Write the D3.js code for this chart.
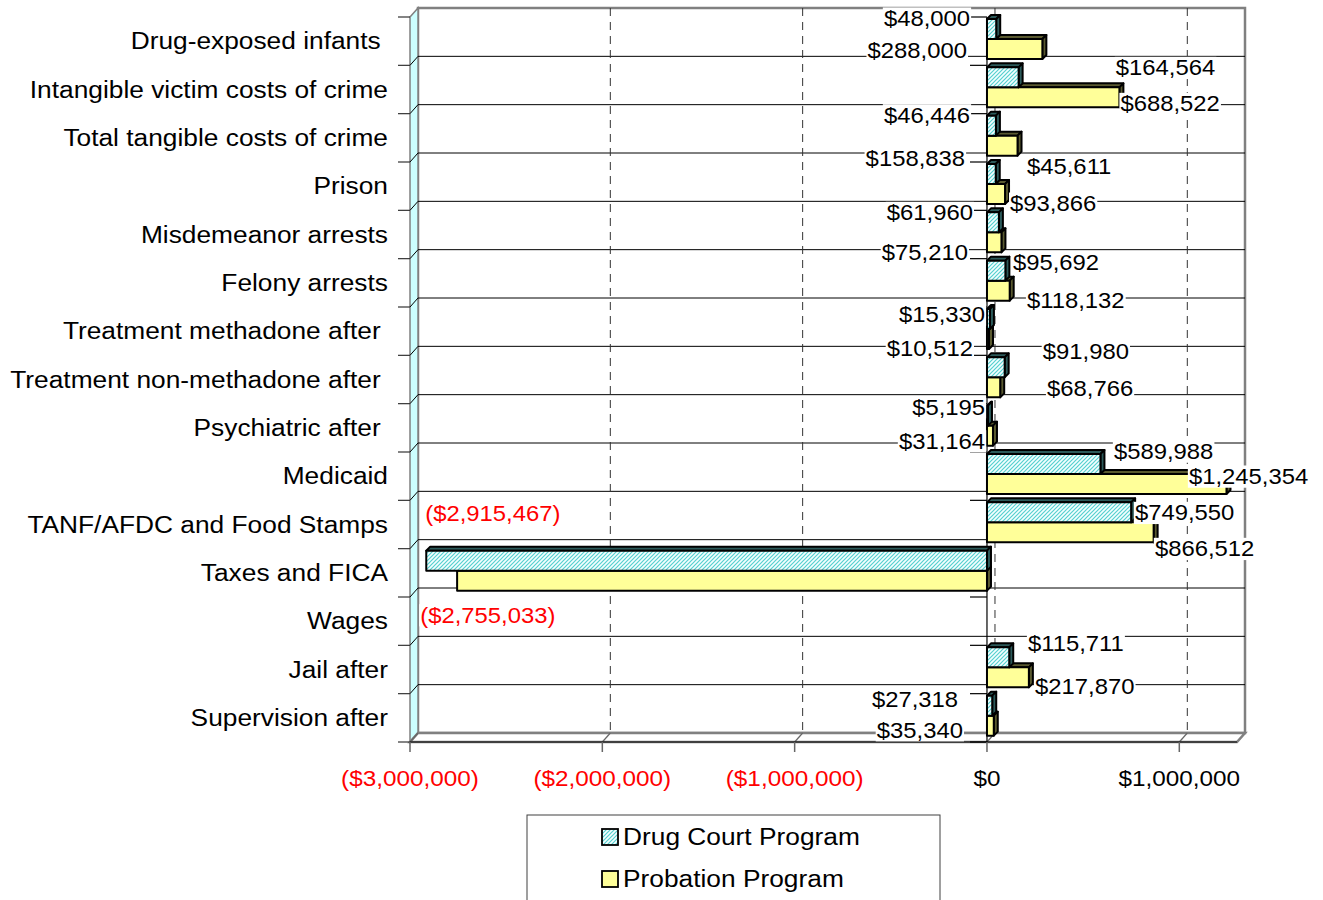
<!DOCTYPE html>
<html>
<head>
  <meta charset="utf-8">
  <title>Drug Court vs Probation costs</title>
  <script src="https://cdn.jsdelivr.net/npm/d3@7"></script>
  <style>
    body { margin: 0; background: #fff; }
    text { font-family: "Liberation Sans", Arial, sans-serif; }
  </style>
</head>
<body>
<script>
// categories, top to bottom
var categories = ["Drug-exposed infants\u00a0", "Intangible victim costs of crime", "Total tangible costs of crime",
  "Prison", "Misdemeanor arrests", "Felony arrests", "Treatment methadone after\u00a0",
  "Treatment non-methadone after\u00a0", "Psychiatric after\u00a0", "Medicaid", "TANF/AFDC and Food Stamps",
  "Taxes and FICA", "Wages", "Jail after", "Supervision after"];

var drugCourt = [48000, 164564, 46446, 45611, 61960, 95692, 15330, 91980, 5195, 589988, 749550, -2915467, null, 115711, 27318];
var probation = [288000, 688522, 158838, 93866, 75210, 118132, 10512, 68766, 31164, 1245354, 866512, -2755033, null, 217870, 35340];

var tickValues = [-3000000, -2000000, -1000000, 0, 1000000];
var seriesNames = ["Drug Court Program", "Probation Program"];

// where excel left the data labels (x in dollars, y offset in px from row top)
var drugLabelX  = [-88000, 670000, -88000, 208000, -73000, 135000, -10000, 290000, -10000, 660000, 769000, -2921000, null, 213000, -150000];
var drugLabelDy = [1, 2, 1, 4, 2, 3, 7, -4, 3, -1, 12, -36, null, -2, 5];
var probLabelX  = [-104000, 694000, -114000, 120000, -99000, 208000, -73000, 312000, -10000, 1050000, 873000, -2947000, null, 250000, -125000];
var probLabelDy = [33, 38, 44, 41, 42, 41, 41, 33, 37, 24, 48, 66, null, 41, 36];

var W = 1323, H = 900;
var svg = d3.select("body").append("svg").attr("width", W).attr("height", H);

var x = d3.scaleLinear().domain([-3000000, 1300000]).range([410, 1237]);
var y = d3.scaleBand().domain(categories).range([17, 742]);
var step = y.step();

var wdx = 8, wdy = -9;   // depth of the walls
var bd = 4;              // depth of the bars
var barH = 20;

var money = d3.format("$,.0f");
function fmt(v) { return v < 0 ? "(" + money(-v) + ")" : money(v); }

// pattern for the drug court bars
var defs = svg.append("defs");
var pat = defs.append("pattern").attr("id", "hatch").attr("patternUnits", "userSpaceOnUse")
  .attr("width", 4).attr("height", 4);
pat.append("rect").attr("width", 4).attr("height", 4).attr("fill", "#f4ffff");
pat.append("path").attr("d", "M-1,1 l2,-2 M0,4 l4,-4 M3,5 l2,-2")
  .attr("stroke", "#55d0d0").attr("stroke-width", 1.2);

var x0 = x.range()[0], x1 = x.range()[1];
var yTop = y.range()[0], yBot = y.range()[1];

// back wall
svg.append("rect").attr("x", x0 + wdx).attr("y", yTop + wdy).attr("width", x1 - x0).attr("height", yBot - yTop)
  .attr("fill", "#fff").attr("stroke", "#808080").attr("stroke-width", 2.5);

// side wall
svg.append("path")
  .attr("d", "M" + x0 + "," + yTop + "L" + (x0 + wdx) + "," + (yTop + wdy) + "L" + (x0 + wdx) + "," + (yBot + wdy) + "L" + x0 + "," + yBot + "Z")
  .attr("fill", "#ccffff").attr("stroke", "#808080").attr("stroke-width", 1.5);

// floor
svg.append("path")
  .attr("d", "M" + x0 + "," + yBot + "L" + (x0 + wdx) + "," + (yBot + wdy) + "L" + (x1 + wdx) + "," + (yBot + wdy) + "L" + x1 + "," + yBot + "Z")
  .attr("fill", "#fff").attr("stroke", "#808080").attr("stroke-width", 2.5);

// row boundaries
var bounds = d3.range(1, categories.length).map(function(i) { return yTop + i * step; });
svg.selectAll(".hgrid").data(bounds).enter().append("line")
  .attr("x1", x0 + wdx).attr("x2", x1 + wdx)
  .attr("y1", function(d) { return d + wdy; }).attr("y2", function(d) { return d + wdy; })
  .attr("stroke", "#000").attr("stroke-width", 1);
svg.selectAll(".hside").data(bounds).enter().append("line")
  .attr("x1", x0).attr("x2", x0 + wdx)
  .attr("y1", function(d) { return d; }).attr("y2", function(d) { return d + wdy; })
  .attr("stroke", "#000").attr("stroke-width", 1);

// dashed value gridlines
svg.selectAll(".vgrid").data(tickValues.slice(1)).enter().append("line")
  .attr("x1", function(d) { return x(d) + wdx; }).attr("x2", function(d) { return x(d) + wdx; })
  .attr("y1", yTop + wdy).attr("y2", yBot + wdy)
  .attr("stroke", "#333").attr("stroke-width", 1).attr("stroke-dasharray", "8,6");
svg.selectAll(".vfloor").data(tickValues).enter().append("line")
  .attr("x1", function(d) { return x(d); }).attr("x2", function(d) { return x(d) + wdx; })
  .attr("y1", yBot).attr("y2", yBot + wdy)
  .attr("stroke", "#666").attr("stroke-width", 1.2);

// category ticks, left and at zero
var allBounds = d3.range(0, categories.length + 1).map(function(i) { return yTop + i * step; });
svg.selectAll(".ctick").data(allBounds).enter().append("line")
  .attr("x1", x0 - 12).attr("x2", x0).attr("y1", function(d) { return d; }).attr("y2", function(d) { return d; })
  .attr("stroke", "#333").attr("stroke-width", 1.2);
svg.selectAll(".ztick").data(allBounds).enter().append("line")
  .attr("x1", x(0) - 17).attr("x2", x(0)).attr("y1", function(d) { return d; }).attr("y2", function(d) { return d; })
  .attr("stroke", "#000").attr("stroke-width", 1.2);
svg.append("line").attr("x1", x(0)).attr("x2", x(0)).attr("y1", yTop).attr("y2", yBot)
  .attr("stroke", "#000").attr("stroke-width", 1.2);

// value axis
svg.append("line").attr("x1", x0).attr("x2", x1).attr("y1", yBot).attr("y2", yBot)
  .attr("stroke", "#000").attr("stroke-width", 1.2);
svg.selectAll(".vtick").data(tickValues).enter().append("line")
  .attr("x1", function(d) { return x(d); }).attr("x2", function(d) { return x(d); })
  .attr("y1", yBot).attr("y2", yBot + 10)
  .attr("stroke", "#666").attr("stroke-width", 1.5);

// 3d bars
function drawBars(values, offset, front, face) {
  var rows = values.map(function(v, i) { return { v: v, c: categories[i] }; })
    .filter(function(d) { return d.v != null; });
  var g = svg.append("g");
  rows.forEach(function(d) {
    var a = Math.min(x(0), x(d.v)), b = Math.max(x(0), x(d.v));
    var t = y(d.c) + offset, h = barH;
    var bar = g.append("g").attr("stroke", "#000").attr("stroke-width", 2).attr("stroke-linejoin", "round");
    bar.append("path")
      .attr("d", "M" + a + "," + t + "L" + (a + bd) + "," + (t - bd) + "L" + (b + bd) + "," + (t - bd) + "L" + b + "," + t + "Z")
      .attr("fill", face);
    bar.append("path")
      .attr("d", "M" + b + "," + t + "L" + (b + bd) + "," + (t - bd) + "L" + (b + bd) + "," + (t + h - bd) + "L" + b + "," + (t + h) + "Z")
      .attr("fill", face);
    bar.append("rect").attr("x", a).attr("y", t).attr("width", b - a).attr("height", h)
      .attr("fill", front);
  });
}
drawBars(probation, 2 + barH, "#ffff99", "#5a5a30");
drawBars(drugCourt, 2, "url(#hatch)", "#2c5a5a");

// text helper, slightly wide like the source
function label(parent, px, py, str, anchor, size, sx, color, bg) {
  var g = parent.append("g").attr("transform", "translate(" + px + "," + py + ") scale(" + sx + ",1)");
  var t = g.append("text").attr("x", 0).attr("y", 0).attr("dy", "0.35em")
    .attr("text-anchor", anchor).attr("font-size", size).attr("fill", color).text(str);
  if (bg) {
    var bb = t.node().getBBox();
    g.insert("rect", "text").attr("x", bb.x - 1).attr("y", bb.y + 2).attr("width", bb.width + 2)
      .attr("height", bb.height - 3).attr("fill", "#fff");
  }
  return g;
}

// data labels
var lab = svg.append("g");
function drawLabels(values, lx, ldy) {
  values.forEach(function(v, i) {
    if (v == null) return;
    var anchor = (lx[i] < 0 && v > 0) ? "end" : "start";
    label(lab, x(lx[i]), y(categories[i]) + ldy[i], fmt(v), anchor, 22.5, 1.06, v < 0 ? "#ff0000" : "#000", true);
  });
}
drawLabels(drugCourt, drugLabelX, drugLabelDy);
drawLabels(probation, probLabelX, probLabelDy);

// category names
categories.forEach(function(c) {
  label(svg, 388, y(c) + step / 2, c, "end", 23.5, 1.12, "#000", false);
});

// value tick labels
tickValues.forEach(function(v) {
  label(svg, x(v), 778, fmt(v), "middle", 22.5, 1.08, v < 0 ? "#ff0000" : "#000", false);
});

// legend
var leg = svg.append("g");
leg.append("rect").attr("x", 527).attr("y", 815).attr("width", 413).attr("height", 110)
  .attr("fill", "#fff").attr("stroke", "#404040").attr("stroke-width", 1);
var legFill = ["url(#hatch)", "#ffff99"];
seriesNames.forEach(function(s, i) {
  var ly = 837 + i * 42;
  leg.append("rect").attr("x", 602).attr("y", ly - 8).attr("width", 16).attr("height", 16)
    .attr("fill", legFill[i]).attr("stroke", "#000").attr("stroke-width", 1.8);
  label(leg, 623, ly, s, "start", 23.5, 1.12, "#000", false);
});
</script>
</body>
</html>
